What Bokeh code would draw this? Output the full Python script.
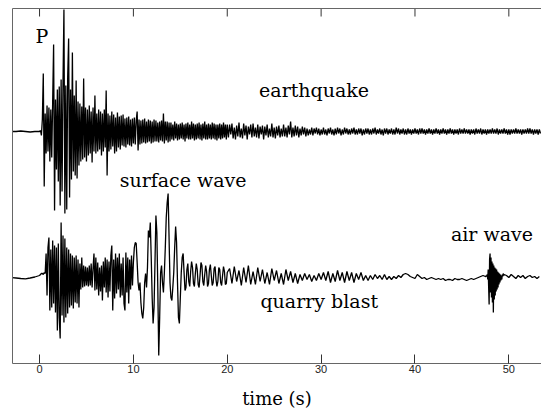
from bokeh.plotting import figure
from bokeh.models import Range1d, LinearAxis, FixedTicker, Label
from bokeh.embed import file_html
from bokeh.resources import INLINE

# ---------------- data (amplitudes in arbitrary counts) ----------------
time_ticks = [0, 10, 20, 30, 40, 50]
time_tick_labels = ["0", "10", "20", "30", "40", "50"]

# earthquake record: (start time, sample step) segments
eq_pre_start, eq_pre_dt = -3.0, 0.5
eq_pre = [0, 0, 0.5, 0, -0.5, 0]

eq_main_start, eq_main_dt = 0.0, 0.1
eq_main = [
    0, 1, -4, 12, 58, -55, 18, -22, 26, -20,
    24, -30, 22, -26, 30, 87, -79, 32, -38, 42,
    -50, 45, -74, 52, -60, 48, 122, -82, 46, -78,
    55, 93, -66, 42, -48, 79, -40, 36, -44, 51,
    -47, 30, -34, 28, -30, 25, -28, 53, -26, 24,
    -30, 22, -24, 26, -22, 20, -31, 24, -20, 36,
    -22, 18, -20, 22, -18, 20, -24, 18, -20, 22,
    -16, 41, -44, 18, -20, 16, -18, 20, -15, 17,
    -22, 14, -20, 19, -16, 15, -18, 16, -14, 17,
    -15, 13, -16, 14, -13, 15, -14, 12, -15, 13,
    -12, 14, -13, 11, 20, -19, 12, -13, 11, -12,
    12, -11, 13, -12, 10, -11, 12, -10, 11, -12,
    10, -11, 12, -10, 11, -10, 9, -11, 10, -9,
    11, -10, 18, -12, 10, -9, 10, -11, 9, -10,
    9, -8, 7, -9, 10, -7, 8, -9, 7, -8,
    8, -7, 9, -8, 7, -10, 8, -7, 9, -8,
    7, -8, 10, -7, 8, -9, 7, -8, 8, -7,
    9, -8, 7, -9, 8, -7, 10, -8, 7, -8,
    8, -7, 7, -8, 9, -7, 8, -8, 7, -9,
    7, -7, 8, -8, 7, -7, 9, -6, 7, -8,
    7,
]

eq_tail_start, eq_tail_dt = 20.125, 0.125
eq_tail = [
    -6, 7, -3, 8, -7, 4, -8, 6,
    -5, 9, -6, 3, -7, 8, -4, 6,
    -8, 5, -3, 7, -6, 8, -5, 4,
    -6, 7, -7, 5, -3, 6, -8, 5,
    -4, 7, -6, 3, -5, 8, -6, 4,
    -7, 5, -4, 6, -6, 3, -5, 7,
    -5, 4, -6, 6, -3, 10, -6, 4,
    -5, 6, -4, 5, -6, 3, -4, 5,
    -3, 4, -5, 3, -4, 2, -3, 4,
    -4, 3, -2, 4, -3, 3, -4, 2,
    -3, 4, -3, 2, -4, 3, -2, 4,
    -3, 2, -4, 3, -3, 4, -2, 3,
    -4, 2, -3, 4, -2, 3, -3, 2,
    -3, 3, -2, 4, -3, 2, -3, 3,
    -2, 3, -4, 2, -3, 3, -2, 3,
    -3, 2, -3, 3, -2, 4, -3, 2,
    -2, 3, -3, 2, -4, 3, -2, 3,
    -3, 2, -2, 3, -3, 2, -3, 4,
    -2, 3, -3, 2, -2, 3, -3, 2,
    -3, 3, -2, 2, -3, 2, -2, 3,
    -2, 2, -3, 3, -2, 3, -2, 2,
    -3, 2, -2, 3, -2, 2, -3, 2,
    -2, 3, -2, 2, -3, 2, -2, 3,
    -2, 2, -3, 2, -2, 3, -2, 2,
    -3, 2, -2, 2, -3, 3, -2, 2,
    -2, 3, -2, 2, -2, 2, -3, 2,
    -2, 2, -3, 3, -2, 2, -2, 3,
    -3, 2, -2, 2, -3, 2, -2, 2,
    -2, 3, -2, 2, -2, 3, -3, 2,
    -2, 2, -2, 3, -2, 2, -3, 2,
    -3, 2, -2, 2, -2, 3, -2, 2,
    -2, 2, -3, 2, -2, 2, -2, 3,
    -2, 3, -2, 2, -3, 2, -2, 2,
    -3, 2, -2, 3, -2, 2, -3, 2,
]

# quarry blast record
qb_pre_start, qb_pre_dt = -3.0, 0.5
qb_pre = [0, -0.5, -1, -1.3, -0.5, 0.5, 2]

qb_main_start, qb_main_dt = 0.1, 0.1
qb_main = [
    3, 4, 4, 3, 5, 4, 24, -18, 30, 40,
    -33, 28, -30, 37, -26, 32, -35, 30, -53, 34,
    -40, -61, 55, -38, 42, -45, 39, -40, 30, -36,
    28, -30, 24, -28, 22, -31, 20, -25, 22, -26,
    18, -30, 14, -12, 20, -10, 12, -9, 11, -8,
    10, -9, 12, -8, 14, -10, 9, 24, -13, 20,
    -12, 15, -18, 10, -14, 12, -23, 16, -10, 20,
    -15, 18, -20, 16, -14, 22, 32, -33, 18, -21,
    24, -16, 20, -12, 24, -20, 14, -18, 20, -26,
    -33, 25, -15, 20, -26, 18, -12, 22, -8, 15,
    30, 35, 34, 15, -5, -13, -5, -25, -36, -41,
    -30, -5, 4, -10, 10, 47, 40, 55, 20, -20,
    -46, -30, 15, 62, 45, -10, -78, -40, 5, 12,
    -5, -15, 5, 30, 60, 75, 84, 40, -5, -20,
    -23, -10, 5, 30, 51, 35, -5, -40, -46, -20,
    5, 20, 24, 5, -13, -10, 8, 14, -4, -9,
    6, 16, 10, -6, -9, 4, 14, 8, -7, -10,
    2, 15, 12, -4, -8, 3, 12, 6, -9, -6,
    8, 13, 2, -8, -5, 9, 11, -2, -9, -4,
    10, 8, -5, -8, 2, 11, 6, -7, -6, 5,
]

qb_tail_start, qb_tail_dt = 20.25, 0.25
qb_tail = [
    9, -6, 11, -4, 7, -8, 10, -5, 12, -7,
    6, -7, 10, -4, 8, -6, 5, -7, 9, -3,
    7, -6, 4, -7, 8, -3, 6, -5, 4, -6,
    3, -3, 4, -2, 3, -4, 2, -3, 4, -2,
    5, -3, 6, -5, 4, -4, 7, -3, 5, -5,
    6, -3, 5, -5, 4, -2, 5, -3, 2, -3,
    2, -2, 3, -1, 2, -2, 3, -2, 1, -2,
    1, -1, 2, 0, 3, 4, 3, 1, 0, -1,
    3, 1, -1, 0, -2, -1, 0, -1, -2, -1,
    -2, -1, -3, -2, -2, -3, -1, -2, -2, -1,
    -2, -3, -2, -1, -2, -1, 0, 1, 2, 1,
]

qb_air_start, qb_air_dt = 47.55, 0.05
qb_air = [
    1, 2, 1, 3, -2, 8, -10, -27, 18, 24,
    -15, 20, -20, 16, -25, 14, -35, 12, -22, 10,
    -18, 9, -14, 8, -12, 6, -10, 5, -7, 4,
    -5, 3, -3, 2, -2, 3, 1, 4, 2, 3,
]

qb_end_start, qb_end_dt = 49.75, 0.25
qb_end = [2, 0, 3, 1, -1, 2, 0, 2, -1, 1, 2, 0, 1, -1, 1, 0, 1, 0]

# vertical placement of the two records (counts)
EQ_OFFSET = 0
QB_OFFSET = -146


def build(segments, offset, t_max):
    ts, ys = [], []
    for start, dt, vals in segments:
        for i, v in enumerate(vals):
            t = start + i * dt
            if t <= t_max:
                ts.append(t)
                ys.append(v + offset)
    return ts, ys


X_START, X_END = -2.88, 53.48
eq_t, eq_y = build([(eq_pre_start, eq_pre_dt, eq_pre),
                    (eq_main_start, eq_main_dt, eq_main),
                    (eq_tail_start, eq_tail_dt, eq_tail)], EQ_OFFSET, X_END)
qb_t, qb_y = build([(qb_pre_start, qb_pre_dt, qb_pre),
                    (qb_main_start, qb_main_dt, qb_main),
                    (qb_tail_start, qb_tail_dt, qb_tail),
                    (qb_air_start, qb_air_dt, qb_air),
                    (qb_end_start, qb_end_dt, qb_end)], QB_OFFSET, X_END)

# ---------------- figure ----------------
Y_TOP, Y_BOTTOM = 123, -232
p = figure(width=541, height=411, output_backend="svg", toolbar_location=None,
           x_range=Range1d(X_START, X_END), y_range=Range1d(Y_BOTTOM, Y_TOP),
           min_border_left=12, min_border_right=0, min_border_top=8, min_border_bottom=48,
           outline_line_color=None)
p.background_fill_color = "white"
p.border_fill_color = "white"
p.grid.visible = False

FRAME = "#666666"
SERIF = "DejaVu Serif"

p.line(eq_t, eq_y, line_color="black", line_width=1.3)
p.line(qb_t, qb_y, line_color="black", line_width=1.3)

# bottom axis
xa = p.xaxis[0]
xa.ticker = FixedTicker(ticks=time_ticks)
xa.major_label_overrides = {t: s for t, s in zip(time_ticks, time_tick_labels)}
xa.major_tick_in = 9
xa.major_tick_out = 0
xa.minor_tick_line_color = None
xa.axis_line_color = FRAME
xa.major_tick_line_color = "#333333"
xa.major_label_text_font = "Liberation Sans"
xa.major_label_text_font_size = "11px"
xa.major_label_text_color = "#222222"
xa.major_label_standoff = 1
xa.axis_label = "time (s)"
xa.axis_label_text_font = SERIF
xa.axis_label_text_font_size = "18px"
xa.axis_label_text_font_style = "normal"
xa.axis_label_text_color = "black"
xa.axis_label_standoff = 12

# left axis: just the frame line
ya = p.yaxis[0]
ya.ticker = FixedTicker(ticks=[])
ya.major_tick_in = 0
ya.major_tick_out = 0
ya.minor_tick_line_color = None
ya.major_label_standoff = 0
ya.axis_line_color = FRAME

# top axis: frame line only; inward ticks drawn below as short segments
top = LinearAxis(ticker=FixedTicker(ticks=[]), major_tick_in=0, major_tick_out=0,
                 major_label_standoff=0, minor_tick_line_color=None, axis_line_color=FRAME)
p.add_layout(top, "above")
TOP_TICK_LEN = 8
p.segment(x0=time_ticks, y0=[Y_TOP] * len(time_ticks), x1=time_ticks,
          y1=[Y_TOP - TOP_TICK_LEN] * len(time_ticks), line_color="#333333", line_width=1)

# annotations
def lab(x, y, text, size="19px", align="center"):
    p.add_layout(Label(x=x, y=y, text=text, text_font=SERIF, text_font_size=size,
                       text_align=align, text_baseline="alphabetic", text_color="black"))

lab(-0.43, 96, "P", size="19px", align="left")
lab(29.25, 42, "earthquake")
lab(15.3, -48.5, "surface wave")
lab(29.8, -169, "quarry blast")
lab(48.2, -102, "air wave")

open("out.html", "w").write(file_html(p, INLINE))
